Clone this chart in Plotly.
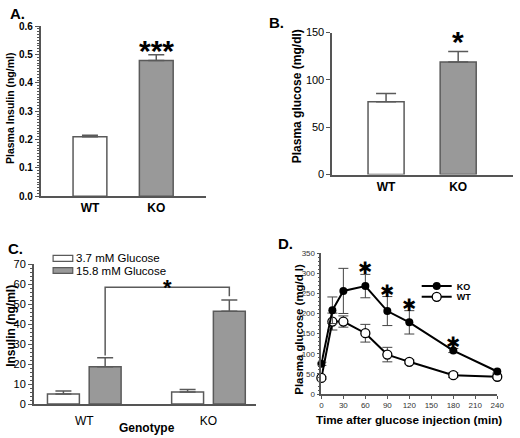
import plotly.graph_objects as go

# ---------------- data ----------------
genotypes = ["WT", "KO"]
# Panel A: plasma insulin
insulin_a = [0.21, 0.479]
insulin_a_err = [0.005, 0.02]
# Panel B: plasma glucose
glucose_b = [77, 118.8]
glucose_b_err = [8.5, 11.2]
# Panel C: islet insulin secretion
ins_low = [5.0, 6.1]
ins_low_err = [1.5, 1.2]
ins_high = [18.7, 46.5]
ins_high_err = [4.5, 5.7]
low_name = "3.7 mM Glucose"
high_name = "15.8 mM Glucose"
# Panel D: glucose tolerance test
time_min = [0, 15, 30, 60, 90, 120, 180, 240]
ko_gtt = [75, 208, 256, 268, 206, 178, 108, 56]
ko_gtt_err = [4, 33, 56, 29, 36, 29, 5, 4]
wt_gtt = [40, 180, 180, 151, 98, 80, 47, 43]
wt_gtt_err = [3, 21, 14, 22, 18, 5, 6, 4]
star_times = [60, 90, 120, 180]
star_levels = [311, 255, 221, 126]

W, H = 520, 438
FONT = "Arial, Liberation Sans, sans-serif"
AX = "#555555"
GRAY = "#999999"
EDGE = "#5a5a5a"


def fx(px):
    return px / W


def fy(py):
    return 1 - py / H


fig = go.Figure()

# ---- Panel A ----
fig.add_trace(go.Bar(
    x=genotypes, y=insulin_a, width=0.51,
    marker=dict(color=["white", GRAY], line=dict(color=EDGE, width=1.5)),
    error_y=dict(type="data", symmetric=False, array=insulin_a_err,
                 arrayminus=[0, 0], color=EDGE, thickness=1.5, width=8),
    xaxis="x", yaxis="y", showlegend=False))

# ---- Panel B ----
fig.add_trace(go.Bar(
    x=genotypes, y=glucose_b, width=0.5,
    marker=dict(color=["white", GRAY], line=dict(color=EDGE, width=1.5)),
    error_y=dict(type="data", symmetric=False, array=glucose_b_err,
                 arrayminus=[0, 0], color=EDGE, thickness=1.5, width=10),
    xaxis="x2", yaxis="y2", showlegend=False))

# ---- Panel C ----
fig.add_trace(go.Bar(
    x=genotypes, y=ins_low, name=low_name,
    marker=dict(color="white", line=dict(color=EDGE, width=1.5)),
    error_y=dict(type="data", symmetric=False, array=ins_low_err,
                 arrayminus=[0, 0], color=EDGE, thickness=1.5, width=8),
    xaxis="x3", yaxis="y3", showlegend=False))
fig.add_trace(go.Bar(
    x=genotypes, y=ins_high, name=high_name,
    marker=dict(color=GRAY, line=dict(color=EDGE, width=1.5)),
    error_y=dict(type="data", symmetric=False, array=ins_high_err,
                 arrayminus=[0, 0], color=EDGE, thickness=1.5, width=8),
    xaxis="x3", yaxis="y3", showlegend=False))

# ---- Panel D ----
fig.add_trace(go.Scatter(
    x=time_min, y=wt_gtt, name="WT", mode="lines+markers",
    line=dict(color="black", width=2),
    marker=dict(symbol="circle", size=9, color="white",
                line=dict(color="black", width=1.3)),
    error_y=dict(type="data", array=wt_gtt_err, color="#444444",
                 thickness=1, width=5),
    xaxis="x4", yaxis="y4", legend="legend3", cliponaxis=False))
fig.add_trace(go.Scatter(
    x=time_min, y=ko_gtt, name="KO", mode="lines+markers",
    line=dict(color="black", width=2),
    marker=dict(symbol="circle", size=8, color="black"),
    error_y=dict(type="data", array=ko_gtt_err, color="#444444",
                 thickness=1, width=5),
    xaxis="x4", yaxis="y4", legend="legend2", cliponaxis=False))

axis_common = dict(showline=True, linecolor=AX, linewidth=1.5,
                   showgrid=False, zeroline=False, ticks="outside",
                   tickcolor=AX, tickwidth=1.2)

small_legend = dict(xanchor="left", yanchor="middle",
                    bgcolor="rgba(0,0,0,0)", font=dict(size=9, weight="bold"),
                    itemwidth=30)

fig.update_layout(
    width=W, height=H,
    margin=dict(l=0, r=0, t=0, b=0),
    paper_bgcolor="white", plot_bgcolor="white",
    font=dict(family=FONT, color="black"),
    barmode="group", bargap=0.328, bargroupgap=0.235,
    # A
    xaxis=dict(domain=[fx(39.3), fx(208)], range=[-0.744, 1.756],
               anchor="y", showline=True, linecolor=AX, linewidth=1.5,
               ticks="", showgrid=False,
               tickfont=dict(size=12, weight="bold")),
    yaxis=dict(domain=[fy(195.7), fy(20.7)], range=[0, 0.6], anchor="x",
               dtick=0.1, tickformat=".1f", ticklen=4,
               tickfont=dict(size=10, weight="bold"),
               minor=dict(dtick=0.01, ticklen=2, tickcolor=AX, ticks="outside"),
               **axis_common),
    # B
    xaxis2=dict(domain=[fx(336), 1.0], range=[-0.747, 1.76], anchor="y2",
                showline=True, linecolor=AX, linewidth=1.5, ticks="",
                showgrid=False, tickfont=dict(size=12, weight="bold")),
    yaxis2=dict(domain=[fy(173.3), fy(27.3)], range=[0, 150], anchor="x2",
                dtick=50, ticklen=4, tickfont=dict(size=11),
                **axis_common),
    # C
    xaxis3=dict(domain=[fx(32.3), fx(258)], range=[-0.407, 1.379],
                anchor="y3", showline=True, linecolor=AX, linewidth=1.5,
                ticks="", showgrid=False, tickfont=dict(size=12),
                ticklabelstandoff=5),
    yaxis3=dict(domain=[fy(409.3), fy(265.7)], range=[0, 70], anchor="x3",
                dtick=10, ticklen=4, tickfont=dict(size=11),
                minor=dict(dtick=2, ticklen=2, tickcolor=AX, ticks="outside"),
                **axis_common),
    # D
    xaxis4=dict(domain=[fx(325), fx(504)], range=[0, 240], anchor="y4",
                dtick=30, ticklen=3, tickfont=dict(size=8, color="#333333"),
                **axis_common),
    yaxis4=dict(domain=[fy(399), fy(254)], range=[0, 350], anchor="x4",
                dtick=50, ticklen=3, tickfont=dict(size=8, color="#333333"),
                minor=dict(dtick=10, ticklen=2, tickcolor=AX, ticks="outside"),
                **axis_common),
    legend2=dict(x=fx(422), y=fy(288), **small_legend),
    legend3=dict(x=fx(422), y=fy(299), **small_legend),
)

ann = []


def label(text, x, y, size, bold=True, angle=0, xanchor="center"):
    ann.append(dict(text=text, x=fx(x), y=fy(y), xref="paper", yref="paper",
                    showarrow=False, textangle=angle,
                    font=dict(size=size, family=FONT,
                              weight="bold" if bold else "normal"),
                    xanchor=xanchor, yanchor="middle"))


label("A.", 16, 8, 15)
label("B.", 279, 17, 15)
label("C.", 14, 249, 15)
label("D.", 289, 244, 15)
label("Plasma Insulin (ng/ml)", 8, 105, 10.5, angle=-90)
label("Plasma glucose (mg/dl)", 301, 93, 12, angle=-90)
label("Insulin (ng/ml)", 9, 329, 12, angle=-90)
label("Plasma glucose (mg/d l)", 302, 332, 11.4, angle=-90)
label("Genotype", 147.5, 434, 12)
label("Time after glucose injection (min)", 414, 425, 11.7)

# panel C key (flat swatches as in the original figure)
key_rows = [(low_name, "white", 259.5), (high_name, GRAY, 272)]
for name, colr, ypx in key_rows:
    fig.add_shape(type="rect", xref="paper", yref="paper",
                  x0=fx(52), x1=fx(72), y0=fy(ypx + 3), y1=fy(ypx - 3),
                  fillcolor=colr, line=dict(color=EDGE, width=1.2))
    label(name, 73.5, ypx, 11.5, bold=False, xanchor="left")

# significance stars
ann.append(dict(text="***", x="KO", y=insulin_a[1] + insulin_a_err[1],
                xref="x", yref="y", showarrow=False, yanchor="bottom",
                yshift=-14, font=dict(size=30, weight="bold")))
ann.append(dict(text="*", x="KO", y=glucose_b[1] + glucose_b_err[1],
                xref="x2", yref="y2", showarrow=False, yanchor="bottom",
                yshift=-9, font=dict(size=30, weight="bold")))
ann.append(dict(text="*", x=0.668, y=58.5, xref="x3", yref="y3",
                showarrow=False, yanchor="bottom", yshift=-15,
                font=dict(size=22, weight="bold")))
for t, lv in zip(star_times, star_levels):
    ann.append(dict(text="✱", x=t, y=lv, xref="x4", yref="y4",
                    showarrow=False, yanchor="middle",
                    font=dict(size=17, color="black")))
fig.update_layout(annotations=ann)

# bracket in panel C (between 15.8 mM bars)
half_slot = (1 - 0.328) / 4
left_x = 0 + half_slot
right_x = 1 + half_slot
bracket_y = 58.5
fig.add_shape(type="path", xref="x3", yref="y3",
              path=f"M {left_x},{ins_high[0] + ins_high_err[0] + 1.2} "
                   f"L {left_x},{bracket_y} L {right_x},{bracket_y} "
                   f"L {right_x},{ins_high[1] + ins_high_err[1] + 1.8}",
              line=dict(color=EDGE, width=1.5))

fig.write_html("out.html", config={"displayModeBar": False},
               post_script="document.body.style.margin='0';"
                           "document.body.style.overflow='hidden';")
